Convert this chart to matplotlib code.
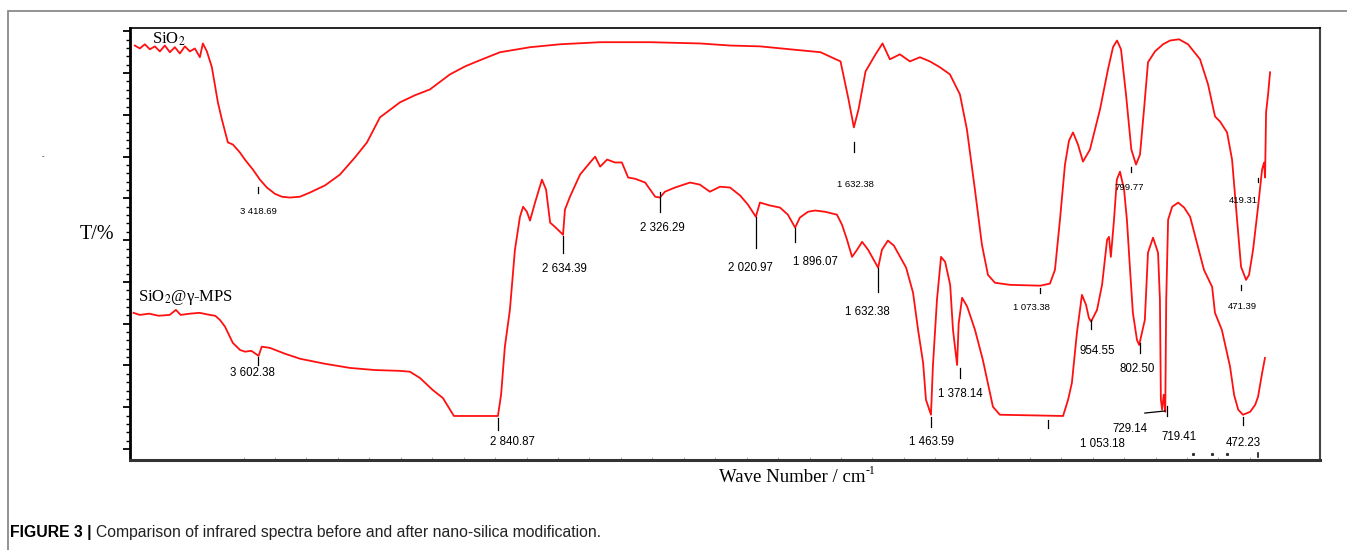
import matplotlib
matplotlib.use("Agg")
import matplotlib.pyplot as plt
from matplotlib.patches import Rectangle

# SiO2 spectrum (wavenumber cm-1, transmittance, arbitrary %)
sio2_wn = [3788, 3773, 3758, 3743, 3728, 3713, 3698, 3683, 3668, 3653, 3638, 3623, 3608,
           3593, 3584, 3572, 3557, 3539, 3527, 3509, 3494, 3473, 3458, 3434, 3413, 3392,
           3368, 3347, 3323, 3293, 3263, 3218, 3173, 3128, 3092, 3053, 2993, 2948, 2903,
           2843, 2798, 2762, 2693, 2603, 2513, 2393, 2243, 2093, 2003, 1913, 1823, 1732,
           1672, 1648, 1632, 1618, 1597, 1567, 1546, 1524, 1494, 1464, 1434, 1404, 1374,
           1344, 1314, 1293, 1269, 1248, 1230, 1209, 1164, 1073, 1044, 1029, 1014, 999,
           987, 975, 960, 945, 924, 894, 870, 855, 843, 831, 816, 800, 786, 774, 762, 750,
           729, 705, 684, 657, 630, 594, 570, 549, 534, 513, 498, 483, 471, 456, 447, 435,
           420, 408, 402, 399, 396, 390, 384]
sio2_t = [96.6, 95.9, 96.9, 95.7, 96.4, 95.2, 96.6, 95.0, 96.2, 94.7, 96.4, 95.2, 95.9,
          93.8, 97.1, 95.2, 91.4, 83.0, 78.9, 73.4, 72.9, 71.0, 69.3, 66.9, 64.5, 62.6,
          61.1, 60.4, 60.2, 60.4, 61.4, 63.1, 65.7, 69.8, 73.4, 79.4, 83.0, 84.7, 86.1,
          89.7, 91.6, 92.8, 95.0, 96.2, 96.9, 97.4, 97.4, 97.1, 96.6, 96.4, 95.7, 95.0,
          92.8, 83.7, 77.0, 81.3, 90.4, 94.5, 97.1, 93.3, 94.5, 92.8, 93.8, 92.8, 91.4,
          89.7, 84.9, 76.5, 62.1, 48.9, 41.7, 39.8, 39.3, 39.1, 39.6, 42.9, 54.9, 68.1,
          73.8, 75.8, 72.9, 68.8, 71.7, 81.3, 90.9, 96.2, 97.8, 95.7, 84.9, 71.7, 68.1,
          70.5, 81.3, 92.6, 95.2, 96.9, 97.8, 98.1, 96.9, 93.3, 87.3, 79.6, 78.4, 75.8,
          69.3, 54.9, 43.6, 40.5, 41.7, 47.7, 58.0, 66.9, 68.6, 65.0, 80.6, 84.9, 90.2]

# SiO2@gamma-MPS spectrum
mps_wn = [4000, 3980, 3950, 3920, 3885, 3865, 3850, 3820, 3790, 3757, 3740, 3725, 3709,
          3684, 3661, 3645, 3625, 3602, 3592, 3566, 3518, 3470, 3391, 3311, 3232, 3152,
          3121, 3089, 3048, 3016, 2981, 2841, 2831, 2819, 2803, 2787, 2771, 2761, 2749,
          2739, 2723, 2701, 2688, 2675, 2660, 2634, 2628, 2612, 2580, 2548, 2532, 2516,
          2494, 2469, 2447, 2427, 2405, 2373, 2357, 2341, 2326, 2310, 2278, 2230, 2199,
          2167, 2135, 2103, 2071, 2046, 2021, 2008, 1976, 1944, 1919, 1896, 1881, 1855,
          1833, 1801, 1763, 1747, 1731, 1715, 1699, 1683, 1664, 1632, 1620, 1601, 1582,
          1562, 1543, 1521, 1505, 1489, 1480, 1464, 1458, 1445, 1432, 1419, 1403, 1394,
          1381, 1376, 1365, 1349, 1324, 1299, 1267, 1245, 1044, 1028, 1016, 1000, 984,
          971, 962, 955, 936, 920, 904, 898, 892, 882, 873, 863, 850, 841, 831, 822, 809,
          802, 784, 774, 758, 742, 736, 733, 729, 724, 719, 716, 710, 697, 678, 659, 640,
          615, 596, 570, 561, 539, 513, 500, 487, 472, 449, 433, 424, 411, 402]
mps_t = [32.6, 32.1, 32.4, 31.9, 32.1, 33.3, 32.1, 32.4, 32.6, 32.1, 31.9, 30.9, 29.3,
         25.4, 23.7, 23.3, 23.5, 22.3, 24.5, 24.2, 22.8, 21.6, 20.4, 19.4, 18.9, 18.7,
         18.5, 17.0, 14.1, 12.2, 7.9, 7.9, 13.0, 24.5, 33.3, 47.7, 55.6, 58.0, 56.8,
         54.7, 59.0, 64.5, 62.1, 54.2, 53.2, 51.3, 57.3, 60.4, 65.7, 68.6, 70.0, 67.6,
         69.3, 68.6, 68.6, 65.0, 64.7, 63.8, 62.1, 60.4, 60.2, 61.6, 62.6, 63.8, 63.3,
         61.6, 62.8, 62.6, 60.7, 58.5, 55.6, 59.0, 58.3, 57.8, 56.1, 53.0, 55.4, 56.8,
         57.1, 56.8, 56.1, 53.7, 50.1, 46.0, 47.7, 49.6, 47.7, 43.4, 47.7, 49.9, 48.7,
         46.0, 43.4, 37.4, 28.5, 20.6, 11.8, 8.2, 19.7, 35.7, 46.0, 44.8, 39.3, 28.5,
         20.1, 30.0, 36.2, 34.1, 28.5, 21.3, 10.1, 8.2, 7.9, 11.8, 15.8, 27.8, 36.9,
         34.5, 31.4, 30.5, 33.3, 39.3, 50.1, 50.8, 46.0, 54.9, 64.5, 66.4, 62.1, 54.9,
         42.9, 32.6, 26.1, 24.9, 30.9, 47.0, 50.6, 47.0, 35.7, 11.8, 9.4, 13.0, 8.9,
         35.7, 54.9, 58.0, 59.0, 57.8, 55.6, 48.4, 42.9, 38.8, 32.6, 28.5, 19.7, 12.9,
         9.4, 8.2, 8.9, 10.6, 12.5, 18.2, 21.8]

# peak labels: text, tick x, tick y0, tick y1, text x, text y
sio2_marks = [
    ("3 418.69", 3418.7, 62.8, 61.4, 3418.7, 56.8),
    ("1 632.38", 1632.4, 73.4, 71.2, 1628, 63.3),
    ("1 073.38", 1073.4, 38.6, 37.4, 1100, 33.8),
    ("799.77", 799.8, 67.6, 66.4, 806, 62.6),
    ("419.31", 419.3, 65.0, 64.0, 464, 59.5),
    ("471.39", 471.4, 39.3, 38.1, 467, 34.1),
]
mps_marks = [
    ("3 602.38", 3602.4, 22.1, 20.1, 3623, 18.2),
    ("2 840.87", 2840.9, 7.4, 4.6, 2796, 1.7),
    ("2 634.39", 2634.4, 51.1, 47.0, 2628, 43.2),
    ("2 326.29", 2326.3, 61.6, 56.8, 2319, 53.0),
    ("2 020.97", 2021.0, 55.6, 48.2, 2039, 43.4),
    ("1 896.07", 1896.1, 53.0, 49.6, 1830, 44.8),
    ("1 632.38", 1632.4, 43.4, 37.6, 1667, 32.9),
    ("1 463.59", 1463.6, 7.7, 5.3, 1461, 1.7),
    ("1 378.14", 1372.0, 19.4, 17.0, 1369, 13.2),
    ("1 053.18", 1092.0, 7.0, 5.0, 920, 1.2),
    ("954.55", 954.6, 30.9, 28.8, 936, 23.5),
    ("802.50", 800.0, 25.4, 23.0, 809, 19.2),
    ("719.41", 712.0, 10.3, 7.9, 675, 2.9),
    ("472.23", 472.2, 7.7, 5.8, 472, 1.4),
]
mark_72914 = ("729.14", [784, 720], [8.6, 9.1], 831, 4.8)
# stray marks near the bottom right of the plot
stray_wn = [631, 571, 523]

W, H = 1347, 550
fig = plt.figure(figsize=(W / 100, H / 100), dpi=100)

# outer frame of the figure panel
fig.patches.append(Rectangle((8 / W, -0.1), 1.2, 1 - 11 / H + 0.1, transform=fig.transFigure,
                             fill=False, edgecolor="#8a8a8a", linewidth=1.3))

ax = fig.add_axes([130 / W, 90 / H, 1190 / W, 432 / H])
ax.set_xlim(4011, 227)
ax.set_ylim(-2.64, 100.8)
ax.plot(mps_wn, mps_t, color="#ff1010", linewidth=1.3)

ax2 = ax.twiny()
ax2.set_xlim(3802.5, 234.3)
ax2.plot(sio2_wn, sio2_t, color="#ff1010", linewidth=1.3)
ax2.set_xticks([])
for s in ax2.spines.values():
    s.set_visible(False)

for lab, tx, y0, y1, lx, ly in sio2_marks:
    ax2.plot([tx, tx], [y0, y1], color="black", linewidth=0.9)
    ax2.text(lx, ly, lab, fontsize=6.8, ha="center", va="center", family="Liberation Sans")

for lab, tx, y0, y1, lx, ly in mps_marks:
    ax.plot([tx, tx], [y0, y1], color="black", linewidth=0.9)
    ax.text(lx, ly, lab, fontsize=8.3, ha="center", va="center", family="Liberation Sans")
lab, lxs, lys, tx, ty = mark_72914
ax.plot(lxs, lys, color="black", linewidth=0.9)
ax.text(tx, ty, lab, fontsize=8.3, ha="center", va="center", family="Liberation Sans")

ax.plot(stray_wn, [-1.3] * len(stray_wn), linestyle="none", marker="s", markersize=1.2,
        color="#333333")
ax.plot([424, 424], [-0.9, -2.0], color="black", linewidth=1.1)

# curve names
ax.text(3940, 98.2, "SiO$_2$", fontsize=12, family="Liberation Serif", va="center",
        math_fontfamily="stix")
ax.text(3985, 36.3, "SiO$_2$@\u03b3-MPS", fontsize=12, family="Liberation Serif", va="center",
        math_fontfamily="stix")

# axes styling
ax.spines["left"].set_linewidth(2.0)
ax.spines["bottom"].set_linewidth(2.2)
ax.spines["bottom"].set_color("#333333")
ax.spines["top"].set_linewidth(1.2)
ax.spines["right"].set_linewidth(1.5)
ax.spines["right"].set_color("#444444")
ax.set_yticks(range(0, 101, 10))
ax.set_yticks(range(0, 101, 2), minor=True)
ax.set_yticklabels([])
ax.tick_params(axis="y", which="major", direction="out", length=5, width=1.3, color="black")
ax.tick_params(axis="y", which="minor", direction="out", length=3, width=1.0, color="black")
ax.set_xticks(range(3650, 449, -100))
ax.set_xticklabels([])
ax.tick_params(axis="x", which="major", direction="in", length=2, width=0.8, color="#b0b0b0")

fig.text(97 / W, 1 - 234 / H, "T/%", fontsize=14.5, family="Liberation Serif",
         ha="center", va="center")

fig.canvas.draw()
r = fig.canvas.get_renderer()

xl = fig.text(792 / W, 1 - 478 / H, "Wave Number / cm", fontsize=13.5,
              family="Liberation Serif", ha="center", va="center")
bb = xl.get_window_extent(r)
fig.text((bb.x1 + 0.5) / W, 1 - 471 / H, "-1", fontsize=8.5,
         family="Liberation Serif", ha="left", va="center")

fig.text(43 / W, 1 - 156 / H, "-", fontsize=5, ha="center", va="center")

cap = fig.text(10 / W, 1 - 533 / H, "FIGURE 3 |", fontsize=11.3, fontweight="bold",
               family="Liberation Sans", va="center")
bb = cap.get_window_extent(r)
fig.text((bb.x1 + 4) / W, 1 - 533 / H,
         "Comparison of infrared spectra before and after nano-silica modification.",
         fontsize=11.3, family="Liberation Sans", va="center", color="#222222")

fig.savefig("out.png", dpi=100)
